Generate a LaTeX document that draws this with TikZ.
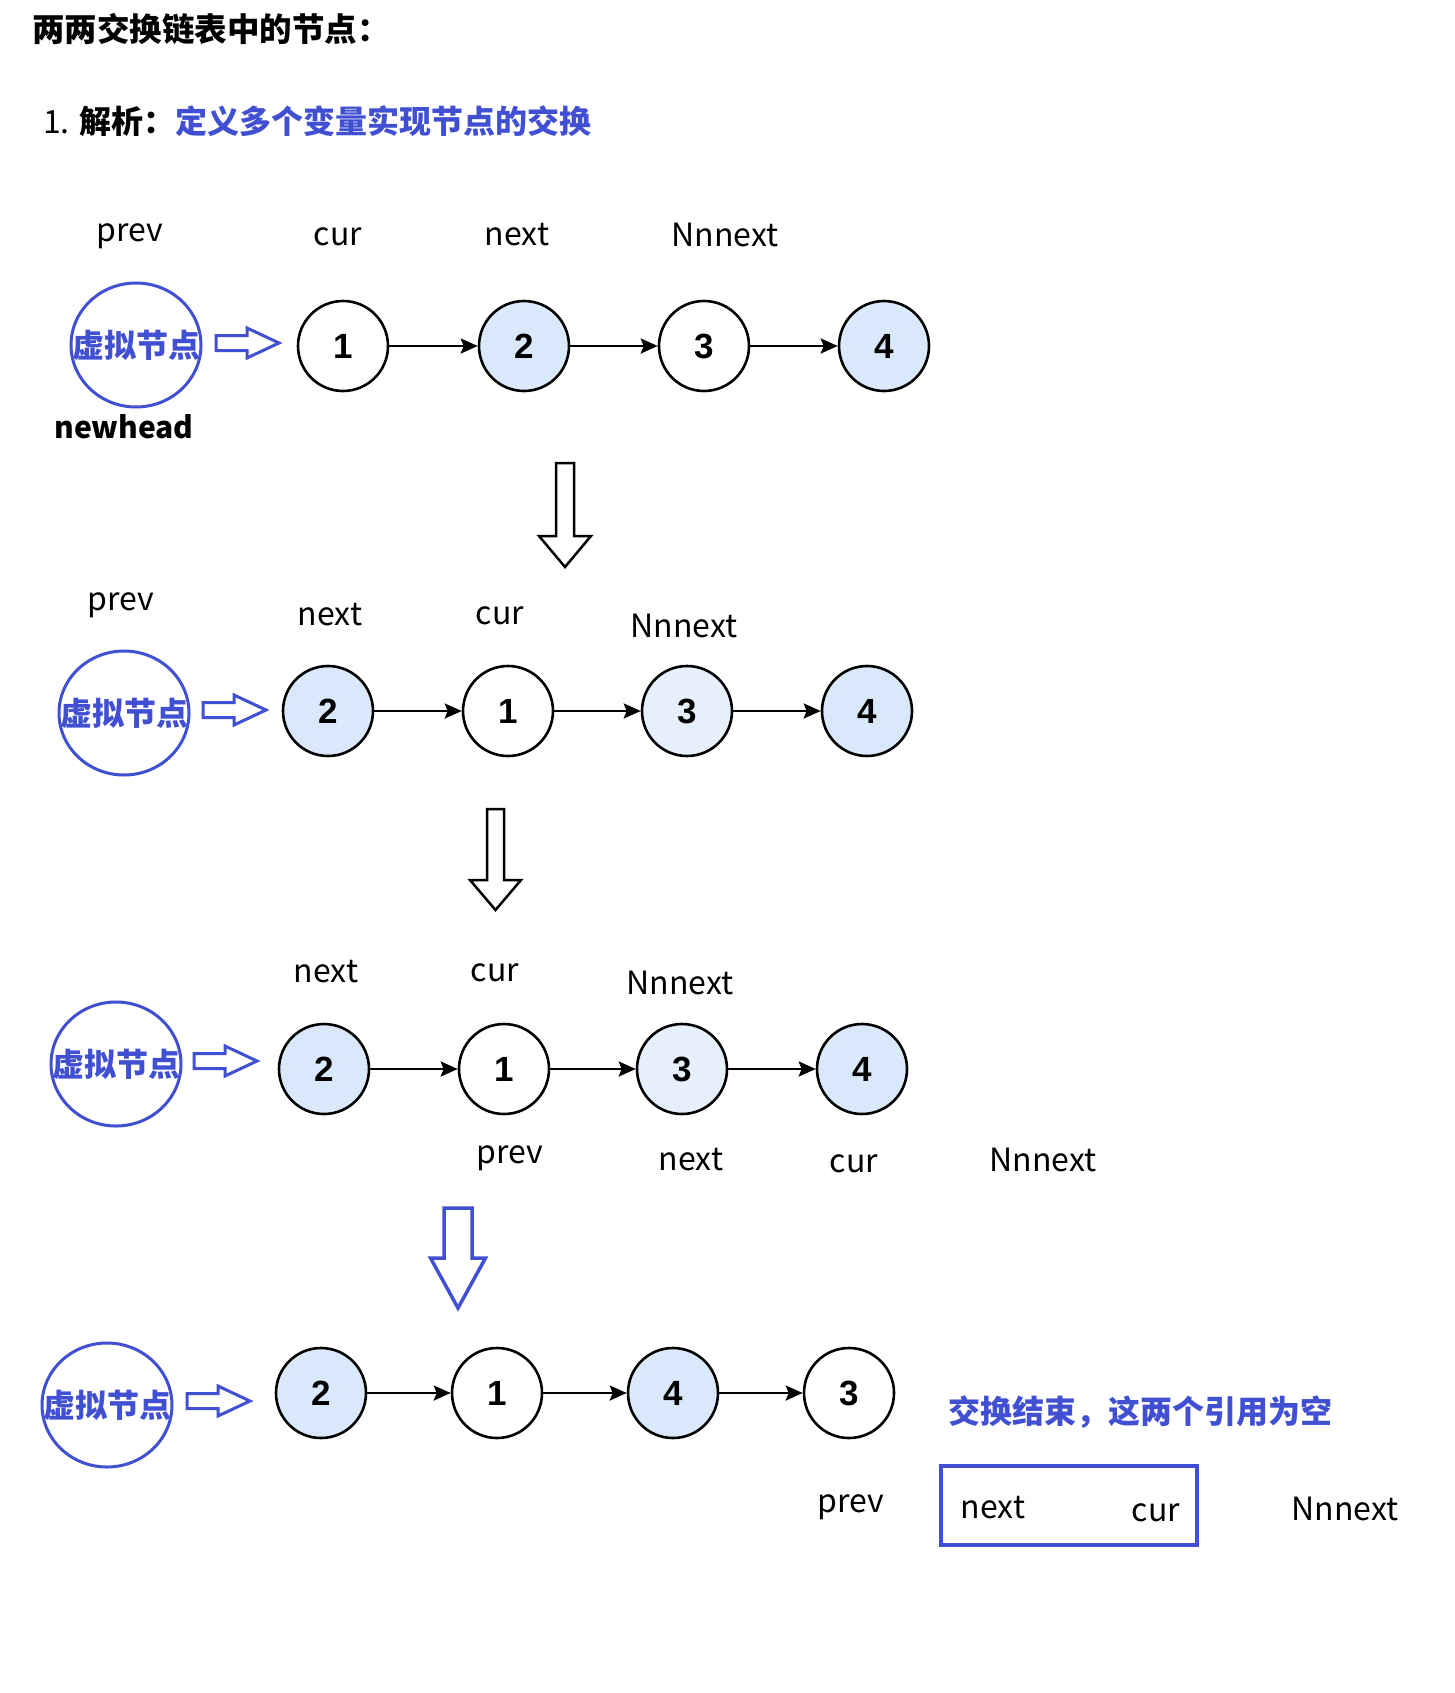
\documentclass[tikz,border=0pt]{standalone}
\usepackage{fontspec}
\setmainfont{Noto Sans CJK SC}
\newfontfamily\numfont{Liberation Sans}
\usetikzlibrary{arrows.meta,shapes.geometric}
\definecolor{myblue}{RGB}{65,80,210}
\definecolor{nodeblue}{HTML}{DAE8FC}
\definecolor{paleblue}{HTML}{E6EFFC}
\tikzset{
  lnode/.style={circle,draw=black,line width=2.6pt,minimum size=90pt,inner sep=0pt,font=\numfont\bfseries\fontsize{35}{40}\selectfont},
  wnode/.style={lnode,fill=white},
  bnode/.style={lnode,fill=nodeblue},
  pnode/.style={lnode,fill=paleblue},
  link/.style={line width=2.6pt,-{Stealth[length=17pt,width=15pt,inset=3pt]}},
  vnode/.style={ellipse,draw=myblue,line width=3pt,minimum width=130pt,minimum height=124pt,inner sep=0pt},
  vtext/.style={text=myblue,font=\bfseries\fontsize{32}{38}\selectfont,inner sep=0pt},
  lab/.style={anchor=base,inner sep=0pt,font=\fontsize{32}{38}\selectfont},
  rarrow/.style={draw=myblue,line width=3pt,line join=miter},
  darrow/.style={draw=black,line width=2.5pt,line join=miter},
  barrow/.style={draw=myblue,line width=3.5pt,line join=miter},
  rblock/.pic={\draw[rarrow] (0,-7.5) -- (31,-7.5) -- (31,-15) -- (63,0) -- (31,15) -- (31,7.5) -- (0,7.5) -- cycle;},
}
\begin{document}
\begin{tikzpicture}[x=1pt,y=-1pt]
\fill[white] (0,0) rectangle (1454,1693);
\useasboundingbox (0,0) rectangle (1454,1693);

% headings
\node[anchor=west,inner sep=0pt,font=\bfseries\fontsize{32.5}{38}\selectfont] (title) at (32,29) {两两交换链表中的节点：};
\node[anchor=west,inner sep=0pt,font=\fontsize{32}{38}\selectfont] (sub) at (43,121) {1. \textbf{解析：}\textcolor{myblue}{\textbf{定义多个变量实现节点的交换}}};

% ---------- row 1 ----------
\node[vnode] (v1) at (136,345) {};
\node[vtext] (v1t) at (v1.center) {虚拟节点};
\pic at (216,343) {rblock};
\node[wnode] (a1) at (343,346) {1};
\node[bnode] (a2) at (524,346) {2};
\node[wnode] (a3) at (704,346) {3};
\node[bnode] (a4) at (884,346) {4};
\draw[link] (a1) -- (a2);
\draw[link] (a2) -- (a3);
\draw[link] (a3) -- (a4);
\node[lab] (l1p) at (130,242) {prev};
\node[lab] (l1c) at (338,246) {cur};
\node[lab] (l1n) at (517,246) {next};
\node[lab] (l1N) at (725,247) {Nnnext};
\node[lab,font=\bfseries\fontsize{30}{36}\selectfont] (nh) at (124,438) {newhead};

\draw[darrow] (556,463) -- (574,463) -- (574,536) -- (591,536) -- (565,567) -- (539,536) -- (556,536) -- cycle;

% ---------- row 2 ----------
\node[vnode] (v2) at (124,713) {};
\node[vtext] (v2t) at (v2.center) {虚拟节点};
\pic at (203,710) {rblock};
\node[bnode] (b1) at (328,711) {2};
\node[wnode] (b2) at (508,711) {1};
\node[pnode] (b3) at (687,711) {3};
\node[bnode] (b4) at (867,711) {4};
\draw[link] (b1) -- (b2);
\draw[link] (b2) -- (b3);
\draw[link] (b3) -- (b4);
\node[lab] (l2p) at (121,610) {prev};
\node[lab] (l2n) at (330,625) {next};
\node[lab] (l2c) at (500,624) {cur};
\node[lab] (l2N) at (684,637) {Nnnext};

\draw[darrow] (487,809) -- (504,809) -- (504,880) -- (521,880) -- (495.5,910) -- (470,880) -- (487,880) -- cycle;

% ---------- row 3 ----------
\node[vnode] (v3) at (116,1064) {};
\node[vtext] (v3t) at (v3.center) {虚拟节点};
\pic at (194,1061) {rblock};
\node[bnode] (c1) at (324,1069) {2};
\node[wnode] (c2) at (504,1069) {1};
\node[pnode] (c3) at (682,1069) {3};
\node[bnode] (c4) at (862,1069) {4};
\draw[link] (c1) -- (c2);
\draw[link] (c2) -- (c3);
\draw[link] (c3) -- (c4);
\node[lab] (l3n) at (326,982) {next};
\node[lab] (l3c) at (495,981) {cur};
\node[lab] (l3N) at (680,994) {Nnnext};
\node[lab] (m3p) at (510,1163) {prev};
\node[lab] (m3n) at (691,1170) {next};
\node[lab] (m3c) at (854,1172) {cur};
\node[lab] (m3N) at (1043,1171) {Nnnext};

\draw[barrow] (444,1208) -- (472,1208) -- (472,1258) -- (485.5,1258) -- (458,1308) -- (430.5,1258) -- (444,1258) -- cycle;

% ---------- row 4 ----------
\node[vnode] (v4) at (107,1405) {};
\node[vtext] (v4t) at (v4.center) {虚拟节点};
\pic at (187,1401) {rblock};
\node[bnode] (d1) at (321,1393) {2};
\node[wnode] (d2) at (497,1393) {1};
\node[bnode] (d3) at (673,1393) {4};
\node[wnode] (d4) at (849,1393) {3};
\draw[link] (d1) -- (d2);
\draw[link] (d2) -- (d3);
\draw[link] (d3) -- (d4);
\node[anchor=west,inner sep=0pt,text=myblue,font=\bfseries\fontsize{32}{38}\selectfont] (endtxt) at (948,1412) {交换结束，这两个引用为空};
\node[draw=myblue,line width=3.5pt,minimum width=256pt,minimum height=79pt,inner sep=0pt] (box) at (1069,1505.5) {};
\node[lab] (l4p) at (851,1512) {prev};
\node[lab] (l4n) at (993,1518) {next};
\node[lab] (l4c) at (1156,1521) {cur};
\node[lab] (l4N) at (1345,1520) {Nnnext};
\end{tikzpicture}
\end{document}
